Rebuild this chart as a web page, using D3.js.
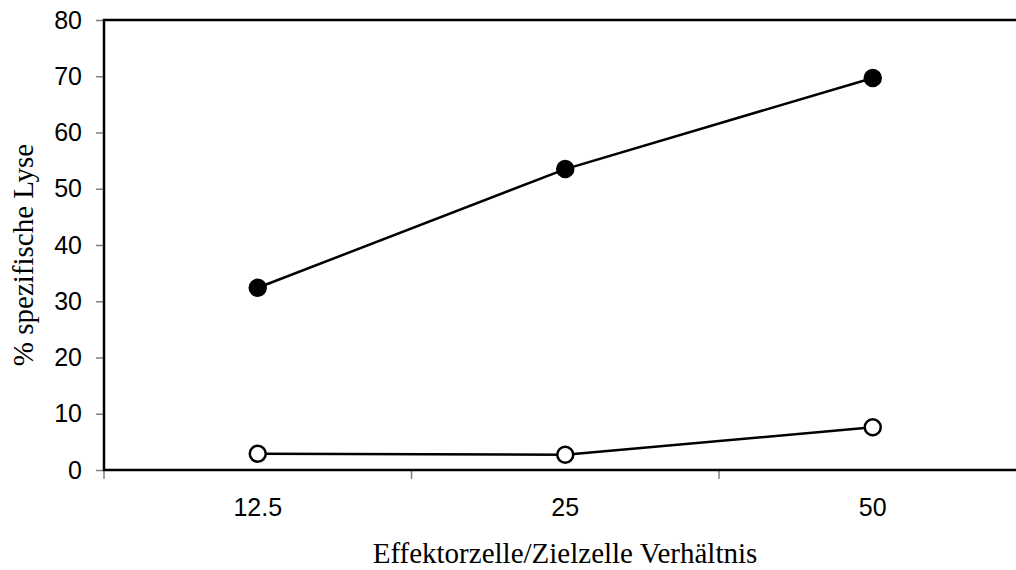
<!DOCTYPE html>
<html>
<head>
<meta charset="utf-8">
<script src="https://cdn.jsdelivr.net/npm/d3@7/dist/d3.min.js"></script>
<style>
body { margin: 0; background: #fff; }
.tick text { font-family: "Liberation Sans", Arial, sans-serif; font-size: 25px; fill: #000; }
.title { font-family: "Liberation Serif", "Times New Roman", serif; font-size: 29px; fill: #000; }
</style>
</head>
<body>
<div class="chart"></div>
<script>
// data
var ratios = ['12.5', '25', '50'];
var filled = [32.4, 53.5, 69.7];
var open = [2.9, 2.7, 7.6];
var yTicks = [0, 10, 20, 30, 40, 50, 60, 70, 80];

var svg = d3.select('div.chart')
.append('svg')
.attr('width', 1016)
.attr('height', 570)
;

var x = d3.scaleBand()
.domain(ratios)
.range([104, 1026.5])
;

var y = d3.scaleLinear()
.domain([0, 80])
.range([470, 20])
;

var yAxis = d3.axisLeft(y).tickValues(yTicks).tickSize(8).tickPadding(14);
var xAxis = d3.axisBottom(x).tickSize(0).tickPadding(28);

var gy = svg.append('g').attr('transform', 'translate(104,0)').call(yAxis);
gy.select('.domain').remove();
gy.selectAll('.tick line').attr('stroke', '#808080').attr('stroke-width', 1.5);

var gx = svg.append('g').attr('transform', 'translate(0,470)').call(xAxis);
gx.select('.domain').remove();

// tick marks between categories
svg.append('g')
.selectAll('line')
.data(ratios)
.enter()
.append('line')
.attr('x1', function(d){return x(d);})
.attr('x2', function(d){return x(d);})
.attr('y1', 470)
.attr('y2', 479)
.attr('stroke', '#808080')
.attr('stroke-width', 1.5)
;

// frame: left, bottom, top
svg.append('path')
.attr('d', 'M' + 1016 + ',' + y(80) + 'H' + x.range()[0] + 'V' + y(0) + 'H' + 1016)
.attr('fill', 'none')
.attr('stroke', '#000')
.attr('stroke-width', 2.5)
;

var line = d3.line()
.x(function(d, i){return x(ratios[i]) + x.bandwidth() / 2;})
.y(function(d){return y(d);})
;

[open, filled].forEach(function(series, k) {
    svg.append('path')
    .datum(series)
    .attr('d', line)
    .attr('fill', 'none')
    .attr('stroke', '#000')
    .attr('stroke-width', 2.5)
    ;

    svg.append('g')
    .selectAll('circle')
    .data(series)
    .enter()
    .append('circle')
    .attr('cx', function(d, i){return x(ratios[i]) + x.bandwidth() / 2;})
    .attr('cy', function(d){return y(d);})
    .attr('r', 8)
    .attr('fill', k === 1 ? '#000' : '#fff')
    .attr('stroke', '#000')
    .attr('stroke-width', 2.5)
    ;
});

svg.append('text')
.attr('class', 'title')
.attr('x', 565)
.attr('y', 563)
.attr('text-anchor', 'middle')
.text('Effektorzelle/Zielzelle Verhältnis')
;

svg.append('text')
.attr('class', 'title')
.attr('transform', 'translate(33,255) rotate(-90)')
.attr('text-anchor', 'middle')
.text('% spezifische Lyse')
;
</script>
</body>
</html>
